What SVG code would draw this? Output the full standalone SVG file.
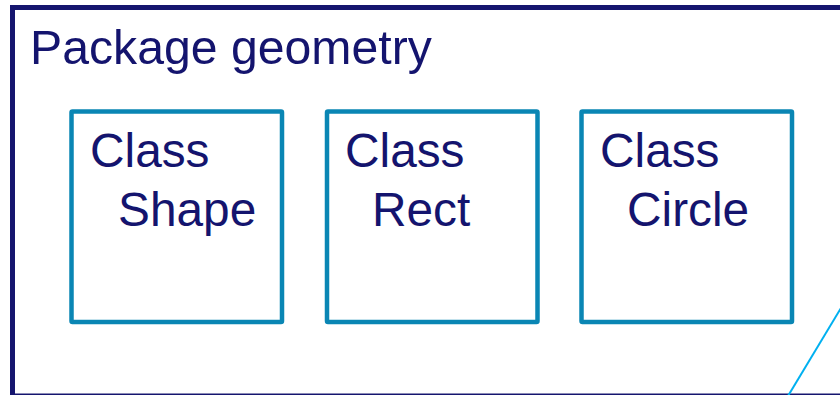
<svg xmlns="http://www.w3.org/2000/svg" width="840" height="395" viewBox="0 0 840 395">
<style>
.frame{fill:#ffffff;stroke:#15156f;stroke-width:5}
.cls{fill:#ffffff;stroke:#0a86b4;stroke-width:4.5}
.t{font-family:"Liberation Sans",Arial,sans-serif;fill:#14146e}
.title{font-size:48.2px}
.lbl{font-size:47.8px}
.conn{stroke:#00b0f0;stroke-width:2;fill:none}
</style>
<rect width="840" height="395" fill="#ffffff"/>
<g id="package-geometry">
<rect class="frame" x="12.5" y="7.5" width="900" height="388.5"/>
<text class="t title" x="30" y="64">Package geometry</text>
</g>
<g id="class-shape">
<rect class="cls" x="71.5" y="111.5" width="210.5" height="210.5" rx="1"/>
<text class="t lbl" x="90" y="167">Class</text>
<text class="t lbl" x="118" y="226">Shape</text>
</g>
<g id="class-rect">
<rect class="cls" x="327" y="111.5" width="210.5" height="210.5" rx="1"/>
<text class="t lbl" x="345" y="167">Class</text>
<text class="t lbl" x="372" y="226">Rect</text>
</g>
<g id="class-circle">
<rect class="cls" x="581.5" y="111.5" width="210.5" height="210.5" rx="1"/>
<text class="t lbl" x="600" y="167">Class</text>
<text class="t lbl" x="627" y="226">Circle</text>
</g>
<g id="connectors">
<line class="conn" x1="788" y1="396" x2="841" y2="308"/>
</g>
</svg>
